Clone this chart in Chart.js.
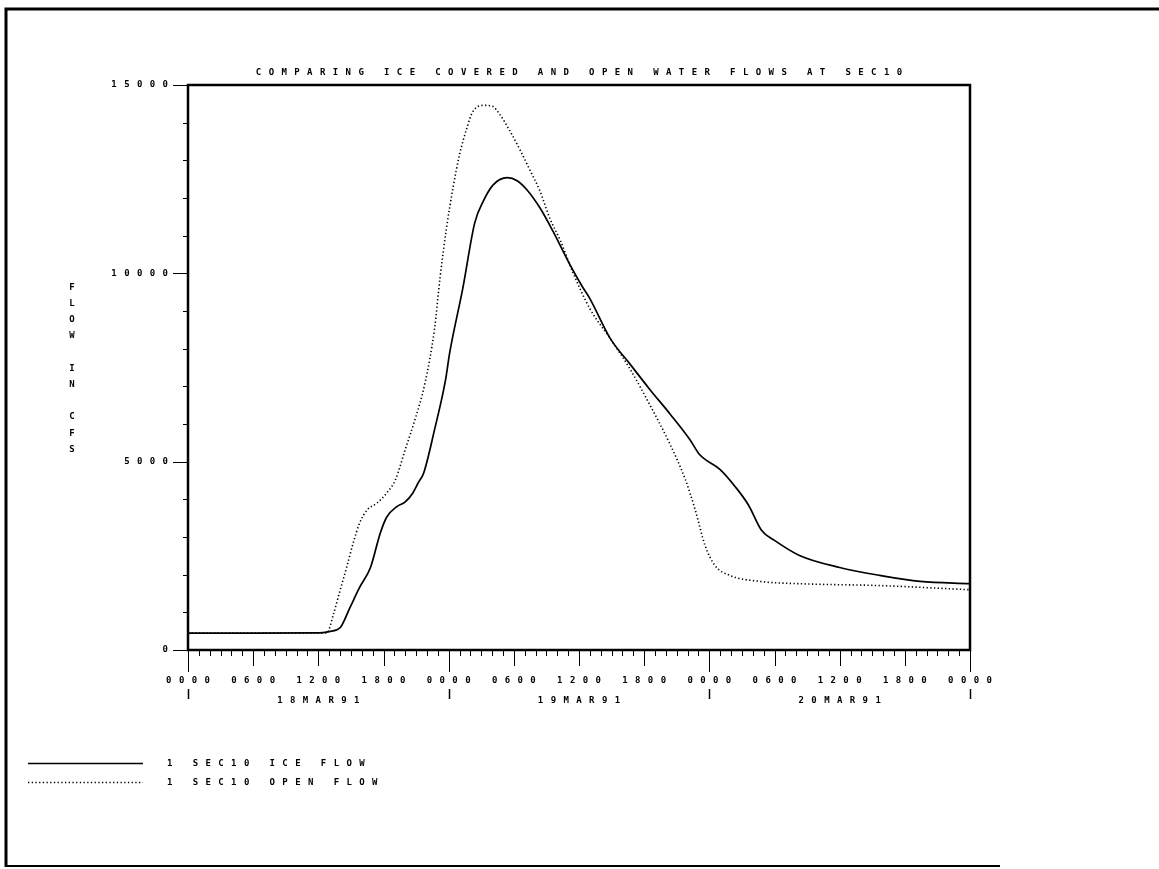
<!DOCTYPE html>
<html>
<head>
<meta charset="utf-8">
<script src="https://cdn.jsdelivr.net/npm/chart.js@4.4.1/dist/chart.umd.min.js"></script>
<style>
  html, body { margin: 0; padding: 0; background: #fff; }
  #c { display: block; }
</style>
</head>
<body>
<canvas id="c" width="1159" height="869"></canvas>
<script>
// ---------- data ----------
const TITLE = 'COMPARING ICE COVERED AND OPEN WATER FLOWS AT SEC10';
const Y_TITLE = ['F','L','O','W','','I','N','','C','F','S'];
const HOUR_LABELS = ['0000', '0600', '1200', '1800'];
const DATE_LABELS = ['18MAR91', '19MAR91', '20MAR91'];
const LEGEND_LABELS = ['1 SEC10 ICE FLOW', '1 SEC10 OPEN FLOW'];

// hours since 0000 18MAR91
const ICE_HOURS = [0, 6, 12, 13, 14.0, 14.9, 15.8, 16.8, 17.7, 18.3, 19.2, 20.0, 20.7, 21.2, 21.7, 22.7, 23.7, 24.1, 25.3, 26.4, 27.2, 28.1, 29.4, 30.3, 31.2, 32.4, 33.6, 35.2, 36.3, 37.0, 38.9, 40.7, 42.5, 44.4, 46.2, 47.1, 49.0, 50.4, 51.6, 52.8, 54.0, 56.3, 60.0, 63.7, 67.4, 72];
const ICE_FLOW  = [450, 450, 455, 490, 590, 1120, 1660, 2190, 3100, 3530, 3800, 3930, 4170, 4440, 4700, 5850, 7150, 7900, 9600, 11340, 11925, 12350, 12540, 12460, 12220, 11740, 11120, 10210, 9650, 9330, 8260, 7590, 6925, 6260, 5590, 5190, 4790, 4330, 3850, 3180, 2910, 2510, 2190, 1980, 1820, 1760];

const OPEN_HOURS = [0, 6, 12, 12.8, 13.4, 14.0, 14.6, 15.2, 15.8, 16.5, 17.4, 18.3, 19.1, 20.0, 20.9, 21.8, 22.7, 23.2, 23.8, 24.4, 25.0, 25.7, 26.2, 27.2, 28.0, 28.7, 29.6, 30.6, 31.5, 32.4, 33.3, 34.3, 35.4, 37.0, 38.9, 40.7, 42.5, 44.4, 45.8, 46.7, 47.6, 48.5, 49.9, 52.7, 56.3, 63.7, 72];
const OPEN_FLOW  = [450, 450, 450, 455, 960, 1580, 2190, 2830, 3370, 3720, 3900, 4170, 4520, 5320, 6120, 7060, 8530, 9870, 11200, 12270, 13150, 13880, 14280, 14460, 14440, 14220, 13800, 13260, 12730, 12190, 11470, 10860, 10050, 9060, 8260, 7460, 6520, 5450, 4520, 3720, 2780, 2250, 1980, 1820, 1760, 1710, 1600];

const X_MAX = 72, Y_MAX = 15000, Y_MINOR = 1000, Y_MAJOR = 5000;

// ---------- styling ----------
const FONT = "'DejaVu Sans Mono', monospace";
const SPACING = 7.4; // letter spacing in px

function setSpacing(ctx, px) {
  if ('letterSpacing' in ctx) ctx.letterSpacing = px + 'px';
}

const spacingPlugin = {
  id: 'spacing',
  beforeUpdate(chart) { setSpacing(chart.ctx, SPACING); },
  beforeLayout(chart) { setSpacing(chart.ctx, SPACING); },
  afterLayout(chart) {
    // centre the title over the plot area
    const tb = chart.titleBlock;
    if (tb) {
      tb.left = chart.chartArea.left + SPACING;
      tb.right = chart.chartArea.right;
      tb.width = tb.right - tb.left;
    }
  },
  beforeDraw(chart) { setSpacing(chart.ctx, SPACING); }
};

const framePlugin = {
  id: 'frame',
  beforeDraw(chart) {
    const ctx = chart.ctx;
    ctx.save();
    ctx.fillStyle = '#fff';
    ctx.fillRect(0, 0, chart.width, chart.height);
    ctx.strokeStyle = '#000';
    ctx.lineWidth = 3;
    ctx.beginPath();
    ctx.moveTo(6, 867); ctx.lineTo(6, 9); ctx.lineTo(1159, 9);
    ctx.stroke();
    ctx.lineWidth = 2;
    ctx.beginPath();
    ctx.moveTo(5, 866); ctx.lineTo(1000, 866);
    ctx.stroke();
    ctx.restore();
  }
};

function line(ctx, x1, y1, x2, y2) {
  ctx.beginPath(); ctx.moveTo(x1, y1); ctx.lineTo(x2, y2); ctx.stroke();
}

const axesPlugin = {
  id: 'axesDeco',
  afterDraw(chart) {
    const ctx = chart.ctx;
    const a = chart.chartArea;
    const x = chart.scales.x, y = chart.scales.y;
    ctx.save();
    ctx.strokeStyle = '#000';
    ctx.lineWidth = 2.5;
    ctx.strokeRect(a.left, a.top, a.right - a.left, a.bottom - a.top);
    ctx.lineWidth = 1;
    for (let v = 0; v <= Y_MAX; v += Y_MINOR) {
      const py = Math.round(y.getPixelForValue(v)) + 0.5;
      const len = v % Y_MAJOR === 0 ? 15 : 5;
      line(ctx, a.left - len, py, a.left, py);
    }
    for (let h = 0; h <= X_MAX; h++) {
      const px = Math.round(x.getPixelForValue(h)) + 0.5;
      const len = h % 24 === 0 ? 22 : (h % 6 === 0 ? 16 : 6);
      line(ctx, px, a.bottom, px, a.bottom + len);
      if (h % 24 === 0) {
        ctx.lineWidth = 1.5;
        line(ctx, px, a.bottom + 39, px, a.bottom + 49);
        ctx.lineWidth = 1;
      }
    }
    // y title, stacked letters
    setSpacing(ctx, 0);
    ctx.fillStyle = '#000';
    ctx.font = 'bold 9px ' + FONT;
    ctx.textAlign = 'center';
    ctx.textBaseline = 'middle';
    Y_TITLE.forEach((ch, i) => ctx.fillText(ch, 72, 287.5 + i * 16.2));
    // legend
    setSpacing(ctx, SPACING);
    ctx.textAlign = 'left';
    chart.data.datasets.forEach((ds, i) => {
      const ly = 763.5 + i * 19;
      ctx.save();
      ctx.strokeStyle = ds.borderColor;
      ctx.lineWidth = ds.borderWidth;
      ctx.setLineDash(ds.borderDash || []);
      line(ctx, 28, ly, 143, ly);
      ctx.restore();
      ctx.fillText(LEGEND_LABELS[i], 167, ly);
    });
    ctx.restore();
  }
};

function toXY(xs, ys) { return xs.map((h, i) => ({ x: h, y: ys[i] })); }

Chart.defaults.font.family = FONT;
Chart.defaults.font.size = 9;
Chart.defaults.font.weight = 'bold';
Chart.defaults.color = '#000';

new Chart(document.getElementById('c'), {
  type: 'line',
  data: {
    datasets: [
      { label: LEGEND_LABELS[0], data: toXY(ICE_HOURS, ICE_FLOW), borderColor: '#000', borderWidth: 1.7,
        pointRadius: 0, fill: false, cubicInterpolationMode: 'monotone' },
      { label: LEGEND_LABELS[1], data: toXY(OPEN_HOURS, OPEN_FLOW), borderColor: '#000', borderWidth: 1.6,
        borderDash: [1.3, 2.4], pointRadius: 0, fill: false, cubicInterpolationMode: 'monotone' }
    ]
  },
  options: {
    responsive: false,
    animation: false,
    events: [],
    layout: { padding: { left: 88, right: 189, top: 0, bottom: 119 } },
    plugins: {
      legend: { display: false },
      tooltip: { enabled: false },
      title: {
        display: true, text: TITLE, color: '#000',
        font: { family: FONT, size: 9, weight: 'bold', lineHeight: 1.2 },
        padding: { top: 67.6, bottom: 6.6 }
      }
    },
    scales: {
      x: {
        type: 'linear', position: 'bottom', min: 0, max: X_MAX,
        afterFit: s => { s.height = 100; },
        border: { display: false },
        grid: { display: false, drawTicks: false },
        ticks: {
          stepSize: 1, autoSkip: false, maxRotation: 0, minRotation: 0,
          padding: 21, labelOffset: SPACING / 2,
          font: { family: FONT, size: 9, weight: 'bold', lineHeight: 20 / 9 },
          callback: v => {
            if (v % 6 !== 0) return '';
            const lab = HOUR_LABELS[(v % 24) / 6];
            if (v % 24 === 12) return [lab, DATE_LABELS[Math.floor(v / 24)]];
            return lab;
          }
        }
      },
      y: {
        type: 'linear', position: 'left', min: 0, max: Y_MAX,
        afterFit: s => { s.width = 100; },
        border: { display: false },
        grid: { display: false, drawTicks: false },
        ticks: {
          stepSize: Y_MAJOR, padding: 12.6,
          font: { family: FONT, size: 9, weight: 'bold' },
          callback: v => String(v)
        }
      }
    }
  },
  plugins: [spacingPlugin, framePlugin, axesPlugin]
});
</script>
</body>
</html>
